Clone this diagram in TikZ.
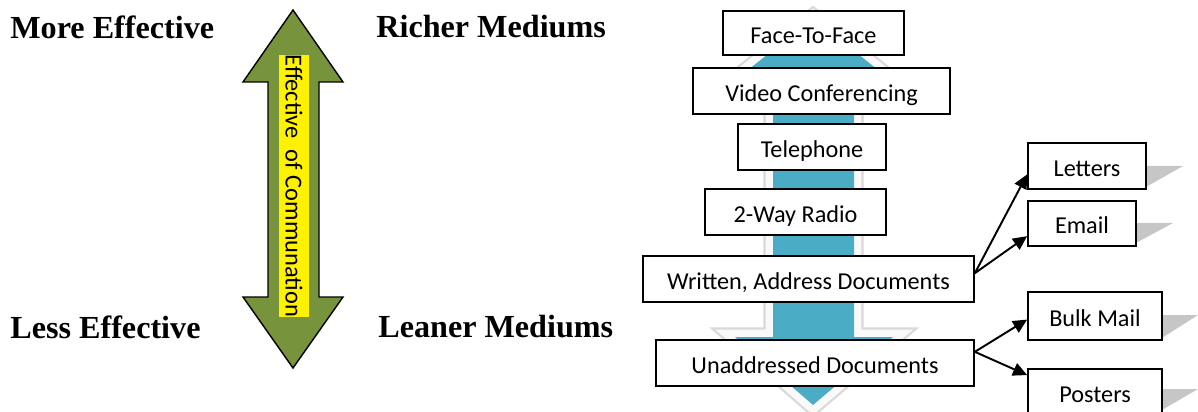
\documentclass[tikz,border=0pt]{standalone}
\usepackage{fontspec}
\setmainfont{Liberation Serif}
\newfontfamily\cali{Carlito}
\usetikzlibrary{arrows.meta}
\definecolor{olivegreen}{HTML}{77933C}
\definecolor{arrowblue}{HTML}{4BACC6}

\begin{document}
\begin{tikzpicture}[x=0.02cm,y=-0.02cm,
  medbox/.style={draw,line width=1pt,fill=white,inner sep=1pt,text height=11.4pt,text depth=0pt,
    font=\cali\fontsize{13.8}{16}\selectfont},
  heading/.style={anchor=west,inner sep=0pt,font=\bfseries\fontsize{18.3}{22}\selectfont},
  link/.style={-{Triangle[length=8pt,width=7.5pt]},line width=1.1pt},
  shade/.style={fill=gray!45}]
\useasboundingbox (0,0) rectangle (1198,412);
\clip (0,0) rectangle (1198,412);
% headings
\node[heading] (more) at (10,27) {More Effective};
\node[heading] (rich) at (376,27) {Richer Mediums};
\node[heading] (less) at (10,327) {Less Effective};
\node[heading] (lean) at (378,327) {Leaner Mediums};
% green double arrow
\draw[fill=olivegreen,line width=0.8pt,line join=miter]
  (293,10) -- (343,82) -- (319,82) -- (319,297) -- (343,297) -- (293,368)
  -- (243,297) -- (268,297) -- (268,82) -- (243,82) -- cycle;
\node[fill=yellow,rotate=-90,minimum width=5.2cm,minimum height=0.6cm,inner sep=0pt,
  font=\cali\fontsize{13.9}{16}\selectfont] (eff) at (294,186) {Effective\ \ of Communation};
% blue arrow with light rim
\foreach \c/\w in {gray!30/11pt,gray!5/8.5pt}
  \draw[\c,line width=\w,line join=miter]
    (813,18) -- (878,70) -- (854,70) -- (854,337) -- (893,337) -- (813,405)
    -- (735,337) -- (773,337) -- (773,70) -- (748,70) -- cycle;
\fill[arrowblue]
  (813,18) -- (878,70) -- (854,70) -- (854,337) -- (893,337) -- (813,405)
  -- (735,337) -- (773,337) -- (773,70) -- (748,70) -- cycle;
% mediums
\node[medbox,minimum width=3.62cm,minimum height=0.88cm] (ftf) at (813.5,33) {Face-To-Face};
\node[medbox,minimum width=5.14cm,minimum height=0.92cm] (video) at (821.5,91) {Video Conferencing};
\node[medbox,minimum width=2.96cm,minimum height=0.92cm] (tel) at (812,147) {Telephone};
\node[medbox,minimum width=3.62cm,minimum height=0.92cm] (radio) at (795.5,212) {2-Way Radio};
\node[medbox,minimum width=6.62cm,minimum height=0.92cm] (wad) at (808.5,279) {Written, Address Documents};
\node[medbox,minimum width=6.36cm,minimum height=0.92cm] (uad) at (815,363) {Unaddressed Documents};
% shadows of the side boxes
\fill[shade] (1146,166) -- (1183,166) -- (1146,187) -- cycle;
\fill[shade] (1136,223) -- (1173,223) -- (1136,243) -- cycle;
\fill[shade] (1162,315) -- (1198,315) -- (1162,338) -- cycle;
\fill[shade] (1162,389) -- (1198,389) -- (1162,410) -- cycle;
% side boxes
\node[medbox,minimum width=2.36cm,minimum height=0.92cm] (let) at (1087,166) {Letters};
\node[medbox,minimum width=2.16cm,minimum height=0.9cm] (email) at (1082,223.5) {Email};
\node[medbox,minimum width=2.68cm,minimum height=0.96cm] (bulk) at (1095,316) {Bulk Mail};
\node[medbox,minimum width=2.68cm,minimum height=0.92cm] (post) at (1095,392) {Posters};
% links
\draw[link] (wad.2) -- (let.188);
\draw[link] (wad.2) -- (email.193);
\draw[link] (uad.4) -- (bulk.183);
\draw[link] (uad.4) -- (post.166);
\end{tikzpicture}
\end{document}
